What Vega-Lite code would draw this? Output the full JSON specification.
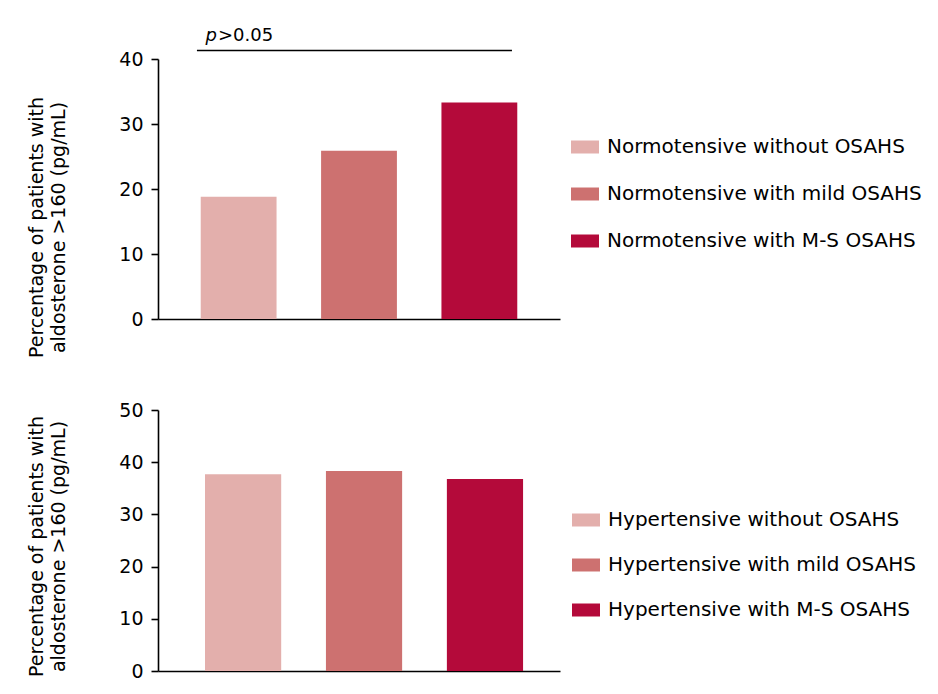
{
  "$schema": "https://vega.github.io/schema/vega-lite/v6.json",
  "padding": {"left": 27, "top": 27, "right": 5, "bottom": 5},
  "background": "white",
  "config": {
    "view": {"stroke": null},
    "font": "DejaVu Sans",
    "axis": {
      "domainColor": "black", "domainWidth": 1.6, "tickColor": "black", "tickWidth": 1.6, "tickSize": 7,
      "labelFontSize": 19, "labelColor": "black", "labelFont": "DejaVu Sans", "labelPadding": 8,
      "titleFontSize": 19, "titleFontWeight": "normal", "titleColor": "black", "titleFont": "DejaVu Sans",
      "titleLineHeight": 22, "titlePadding": 50, "grid": false
    },
    "legend": {
      "title": null, "orient": "none", "symbolType": "M-1,-0.464H1V0.464H-1Z", "symbolSize": 784,
      "symbolStrokeWidth": 0, "symbolOpacity": 1, "labelFontSize": 20, "labelFont": "DejaVu Sans",
      "labelColor": "black", "rowPadding": 23, "labelOffset": 8, "labelLimit": 400
    },
    "concat": {"spacing": 43}
  },
  "datasets": {
    "normo": [
      {"group": "Normotensive without OSAHS", "pct": 18.8},
      {"group": "Normotensive with mild OSAHS", "pct": 25.9},
      {"group": "Normotensive with M-S OSAHS", "pct": 33.3}
    ],
    "hyper": [
      {"group": "Hypertensive without OSAHS", "pct": 37.7},
      {"group": "Hypertensive with mild OSAHS", "pct": 38.3},
      {"group": "Hypertensive with M-S OSAHS", "pct": 36.8}
    ],
    "sig": [
      {"group": "Normotensive without OSAHS", "end": "Normotensive with M-S OSAHS", "ruleY": 41.3, "textY": 42.7, "p": "p", "rest": ">0.05"}
    ]
  },
  "vconcat": [
    {
      "width": 402, "height": 260,
      "layer": [
        {
          "data": {"name": "normo"},
          "mark": {"type": "bar"},
          "encoding": {
            "x": {"field": "group", "type": "nominal", "sort": null,
                  "scale": {"paddingInner": 0.37, "paddingOuter": 0.355, "align": 0.5},
                  "axis": {"labels": false, "ticks": false, "title": null}},
            "y": {"field": "pct", "type": "quantitative", "title": ["Percentage of patients with", "aldosterone >160 (pg/mL)"],
                  "scale": {"domain": [0, 40], "nice": false},
                  "axis": {"values": [0, 10, 20, 30, 40], "titleY": 168}},
            "color": {"field": "group", "type": "nominal", "sort": null,
                      "scale": {"range": ["#E3AFAC", "#CD7170", "#B40A3A"]},
                      "legend": {"legendX": 413, "legendY": 74}}
          }
        },
        {
          "data": {"name": "sig"},
          "mark": {"type": "rule", "color": "black", "strokeWidth": 1.6},
          "encoding": {
            "x": {"field": "group", "type": "nominal", "sort": null, "bandPosition": -0.05},
            "x2": {"field": "end", "bandPosition": 0.93},
            "y": {"field": "ruleY", "type": "quantitative", "title": ["Percentage of patients with", "aldosterone >160 (pg/mL)"]}
          }
        },
        {
          "data": {"name": "sig"},
          "mark": {"type": "text", "fontSize": 18, "fontStyle": "italic", "align": "right", "baseline": "alphabetic", "color": "black"},
          "encoding": {
            "x": {"field": "group", "type": "nominal", "sort": null, "bandPosition": 0.214},
            "y": {"field": "textY", "type": "quantitative", "title": ["Percentage of patients with", "aldosterone >160 (pg/mL)"]},
            "text": {"field": "p"}
          }
        },
        {
          "data": {"name": "sig"},
          "mark": {"type": "text", "fontSize": 18, "align": "left", "baseline": "alphabetic", "dx": 1, "color": "black"},
          "encoding": {
            "x": {"field": "group", "type": "nominal", "sort": null, "bandPosition": 0.214},
            "y": {"field": "textY", "type": "quantitative", "title": ["Percentage of patients with", "aldosterone >160 (pg/mL)"]},
            "text": {"field": "rest"}
          }
        }
      ]
    },
    {
      "width": 402, "height": 261,
      "data": {"name": "hyper"},
      "mark": {"type": "bar"},
      "encoding": {
        "x": {"field": "group", "type": "nominal", "sort": null,
              "scale": {"paddingInner": 0.37, "paddingOuter": 0.347, "align": 0.56},
              "axis": {"labels": false, "ticks": false, "title": null}},
        "y": {"field": "pct", "type": "quantitative", "title": ["Percentage of patients with", "aldosterone >160 (pg/mL)"],
              "scale": {"domain": [0, 50], "nice": false},
              "axis": {"values": [0, 10, 20, 30, 40, 50], "titleY": 136}},
        "color": {"field": "group", "type": "nominal", "sort": null,
                  "scale": {"range": ["#E3AFAC", "#CD7170", "#B40A3A"]},
                  "legend": {"legendX": 414, "legendY": 96, "rowPadding": 21}}
      }
    }
  ],
  "resolve": {"scale": {"color": "independent", "y": "independent", "x": "independent"}}
}
